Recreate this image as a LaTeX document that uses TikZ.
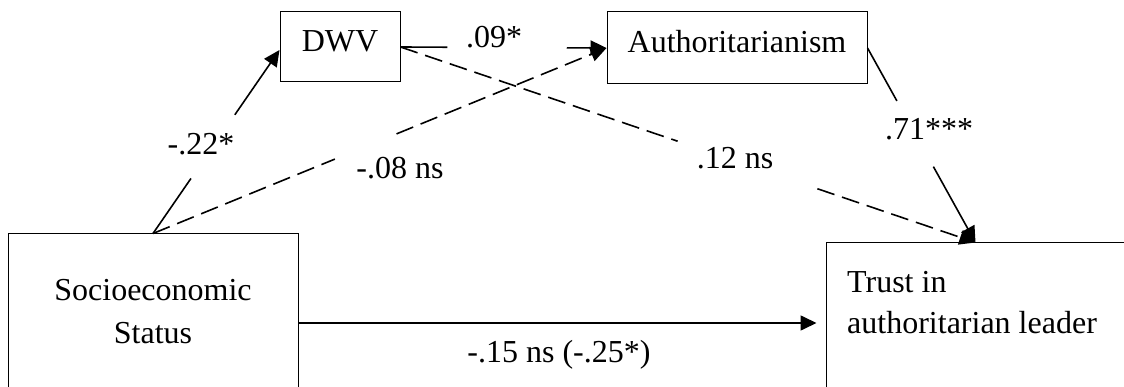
\documentclass[tikz,border=0pt]{standalone}
\usepackage{fontspec}
\setmainfont{Liberation Serif}
\usetikzlibrary{arrows.meta,calc}
\begin{document}
\begin{tikzpicture}[x=1pt,y=-1pt,
  box/.style={draw,line width=1pt,inner sep=0pt,font=\fontsize{32}{40}\selectfont},
  smallbox/.style={box,text height=22pt,text depth=12pt},
  txt/.style={inner sep=0pt,anchor=base,font=\fontsize{32}{40}\selectfont},
  txtl/.style={txt,anchor=base west},
  conn/.style={line width=1.6pt},
  arr/.style={conn,-{Triangle[length=16pt,width=15pt]}},
  dashedconn/.style={conn,dash pattern=on 18pt off 8pt},
  dashedarr/.style={dashedconn,-{Triangle[length=16pt,width=15pt]}}
]
\useasboundingbox (0,0) rectangle (1124,387);
\clip (0,0) rectangle (1124,387);

% boxes
\node[box,minimum width=290pt,minimum height=178pt] (SES) at (153,323) {};
\node[smallbox,minimum width=120pt,minimum height=70pt] (DWV) at (340,47) {DWV};
\node[smallbox,minimum width=260pt,minimum height=72pt] (Auth) at (737,48) {Authoritarianism};
\node[box,minimum width=330pt,minimum height=160pt] (Trust) at (991,323) {};

% box texts
\node[txt] (sesA) at (153,301) {Socioeconomic};
\node[txt] (sesB) at (153,343) {Status};
\node[txtl] (trA) at (847,293) {Trust in};
\node[txtl] (trB) at (847,333) {authoritarian leader};

% connector end points
\coordinate (dwvIn) at ($(DWV.west)+(0,3)$);
\coordinate (trustIn) at ($(Trust.north west)+(150,0)$);

% SES -> DWV
\coordinate (g1a) at ($(SES.north)!0.30!(dwvIn)$);
\coordinate (g1b) at ($(SES.north)!0.647!(dwvIn)$);
\draw[conn] (SES.north) -- (g1a);
\draw[arr] (g1b) -- (dwvIn);
\node[txt] (l1) at (201,155) {-.22*};

% SES -> Authoritarianism (dashed)
\coordinate (g2a) at ($(SES.north)!0.401!(Auth.west)$);
\coordinate (g2b) at ($(SES.north)!0.537!(Auth.west)$);
\draw[dashedconn] (SES.north) -- (g2a);
\draw[dashedarr] (g2b) -- (Auth.west);
\node[txt] (l2) at (400,179) {-.08 ns};

% DWV -> Authoritarianism
\coordinate (g3a) at ($(DWV.east)!0.227!(Auth.west)$);
\coordinate (g3b) at ($(DWV.east)!0.807!(Auth.west)$);
\draw[conn] (DWV.east) -- (g3a);
\draw[arr] (g3b) -- (Auth.west);
\node[txt] (l3) at (494,48) {.09*};

% DWV -> Trust (dashed)
\coordinate (g4a) at ($(DWV.east)!0.482!(trustIn)$);
\coordinate (g4b) at ($(DWV.east)!0.725!(trustIn)$);
\draw[dashedconn] (DWV.east) -- (g4a);
\draw[dashedarr] (g4b) -- (trustIn);
\node[txt] (l4) at (735,169) {.12 ns};

% Authoritarianism -> Trust
\coordinate (g5a) at ($(Auth.east)!0.272!(trustIn)$);
\coordinate (g5b) at ($(Auth.east)!0.610!(trustIn)$);
\draw[conn] (Auth.east) -- (g5a);
\draw[arr] (g5b) -- (trustIn);
\node[txt] (l5) at (929,140) {.71***};

% SES -> Trust
\draw[arr,shorten >=9pt] (SES.east) -- (Trust.west);
\node[txt] (l6) at (559,362) {-.15 ns (-.25*)};
\end{tikzpicture}
\end{document}
